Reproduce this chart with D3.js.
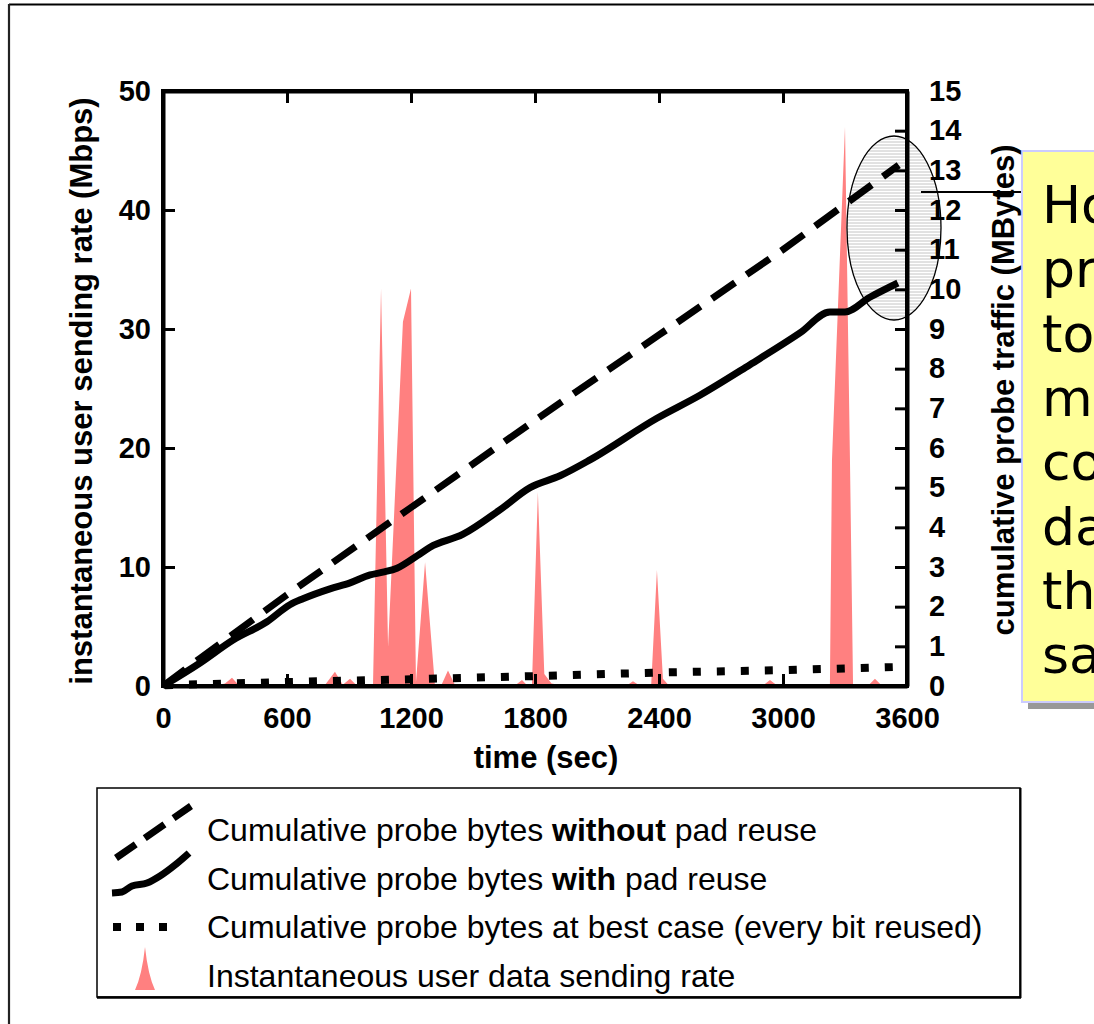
<!DOCTYPE html>
<html><head><meta charset="utf-8">
<script src="https://cdn.jsdelivr.net/npm/d3@7"></script>
<style>body{margin:0;background:#fff;overflow:hidden}svg{display:block}</style>
</head><body>
<svg id="c" width="1094" height="1024"></svg>
<script>
// ---------- data ----------
const xTicks = [0, 600, 1200, 1800, 2400, 3000, 3600];
const leftTicks = [0, 10, 20, 30, 40, 50];
const rightTicks = [0,1,2,3,4,5,6,7,8,9,10,11,12,13,14,15];

// instantaneous user sending rate (Mbps)
const rateTime = [0,60,150,250,300,334,370,500,650,780,832,870,905,940,1016,1055,1089,1161,1200,1224,1268,1316,1345,1379,1415,1700,1737,1765,1785,1814,1845,1880,1950,2240,2274,2310,2362,2390,2419,2450,2900,2937,2975,3227,3237,3300,3324,3339,3410,3445,3480,3580];
const rateMbps = [0,0.1,0,0,0.2,0.7,0,0,0.1,0,1.2,0.1,0.6,0,0,33.4,3.3,30.6,33.4,0.3,10.4,0,0,1.3,0,0,0.5,0,0,16.3,1.0,0.2,0,0,0.4,0,0,9.75,0.6,0,0,0.5,0,0,19,47,19,0,0,0.6,0,0];

// cumulative probe traffic (MBytes)
const noReuseTime = [0,180,600,1200,1800,2400,3000,3560];
const noReuseMB   = [0,0.7,2.3,4.5,6.7,8.85,11.0,13.13];
const reuseTime = [0,179,339,503,614,677,808,905,1002,1064,1132,1229,1292,1450,1630,1776,1921,2066,2390,2598,2840,3082,3227,3300,3420,3556];
const reuseMB   = [0,0.58,1.16,1.62,2.05,2.2,2.45,2.6,2.8,2.87,2.97,3.28,3.5,3.82,4.44,5.0,5.3,5.7,6.75,7.33,8.1,8.9,9.43,9.43,9.8,10.16];
const bestTime = [0,600,1200,1800,2400,3000,3560];
const bestMB   = [0.02,0.1,0.17,0.25,0.34,0.4,0.48];

const xTitle = "time (sec)";
const yLeftTitle = "instantaneous user sending rate (Mbps)";
const yRightTitle = "cumulative probe traffic (MBytes)";
const legendItems = [
  ["Cumulative probe bytes ", "without", " pad reuse"],
  ["Cumulative probe bytes ", "with", " pad reuse"],
  ["Cumulative probe bytes at best case (every bit reused)", "", ""],
  ["Instantaneous user data sending rate", "", ""]
];
const calloutLines = ["Ho","pro","tol","me","co","da","the","sa"];

// ---------- drawing ----------
const svg = d3.select("#c");
const F = "'Liberation Sans', Arial, sans-serif";
const pink = "#ff8080";

const x = d3.scaleLinear().domain([0, 3600]).range([163, 907]);
const yL = d3.scaleLinear().domain([0, 50]).range([686, 91]);
const yR = d3.scaleLinear().domain([0, 15]).range([686, 91]);

// slide frame
svg.append("line").attr("x1", 9).attr("y1", 4.5).attr("x2", 1094).attr("y2", 4.5).attr("stroke", "#000").attr("stroke-width", 2);
svg.append("line").attr("x1", 9).attr("y1", 4).attr("x2", 9).attr("y2", 1024).attr("stroke", "#222").attr("stroke-width", 2.2);

// hatch pattern
const defs = svg.append("defs");
const pat = defs.append("pattern").attr("id", "hatch").attr("patternUnits", "userSpaceOnUse").attr("width", 6).attr("height", 3);
pat.append("line").attr("x1", 0).attr("x2", 6).attr("y1", 1).attr("y2", 1).attr("stroke", "#c4c4c4").attr("stroke-width", 1);

// rate area
const pts = rateTime.map((t, i) => [t, rateMbps[i]]);
svg.append("path").datum(pts)
  .attr("d", d3.area().x(d => x(d[0])).y0(yL(0)).y1(d => yL(d[1])))
  .attr("fill", pink);

// ellipse fill (hatched)
svg.append("ellipse").attr("cx", 894).attr("cy", 228).attr("rx", 47).attr("ry", 92)
  .attr("fill", "url(#hatch)").attr("stroke", "none");

// cumulative lines
svg.append("path").datum(noReuseTime.map((t, i) => [t, noReuseMB[i]]))
  .attr("d", d3.line().x(d => x(d[0])).y(d => yR(d[1])))
  .attr("fill", "none").attr("stroke", "#000").attr("stroke-width", 7)
  .attr("stroke-dasharray", "28,14");
svg.append("path").datum(reuseTime.map((t, i) => [t, reuseMB[i]]))
  .attr("d", d3.line().x(d => x(d[0])).y(d => yR(d[1])).curve(d3.curveMonotoneX))
  .attr("fill", "none").attr("stroke", "#000").attr("stroke-width", 7)
  .attr("stroke-linejoin", "round");
svg.append("path").datum(bestTime.map((t, i) => [t, bestMB[i]]))
  .attr("d", d3.line().x(d => x(d[0])).y(d => yR(d[1])))
  .attr("fill", "none").attr("stroke", "#000").attr("stroke-width", 8)
  .attr("stroke-dasharray", "8,16").attr("stroke-dashoffset", -2);

// ellipse outline
svg.append("ellipse").attr("cx", 894).attr("cy", 228).attr("rx", 47).attr("ry", 92)
  .attr("fill", "none").attr("stroke", "#000").attr("stroke-width", 1.3);

// axes
function styleAxis(g) {
  g.select(".domain").attr("stroke-width", 4);
  g.selectAll(".tick line").attr("stroke-width", 3);
  g.selectAll("text").attr("font-family", F).attr("font-weight", "bold").attr("font-size", 29).attr("fill", "#000");
}
svg.append("g").attr("transform", "translate(163,0)")
  .call(d3.axisLeft(yL).tickValues(leftTicks).tickSizeInner(-12).tickSizeOuter(0).tickPadding(12))
  .call(styleAxis);
svg.append("g").attr("transform", "translate(907,0)")
  .call(d3.axisRight(yR).tickValues(rightTicks).tickSizeInner(-12).tickSizeOuter(0).tickPadding(22))
  .call(styleAxis);
svg.append("g").attr("transform", "translate(0,686)")
  .call(d3.axisBottom(x).tickValues(xTicks).tickFormat(d3.format("d")).tickSizeInner(-12).tickSizeOuter(0).tickPadding(21))
  .call(styleAxis);
svg.append("g").attr("transform", "translate(0,91)")
  .call(d3.axisTop(x).tickValues(xTicks).tickSizeInner(-12).tickSizeOuter(0).tickFormat(""))
  .call(styleAxis);
// close corners
svg.append("rect").attr("x", 163).attr("y", 91).attr("width", 744).attr("height", 595)
  .attr("fill", "none").attr("stroke", "#000").attr("stroke-width", 4);

// callout pointer
svg.append("line").attr("x1", 921).attr("x2", 1026).attr("y1", 192).attr("y2", 192).attr("stroke", "#000").attr("stroke-width", 2);

// callout box
svg.append("rect").attr("x", 1028).attr("y", 157).attr("width", 120).attr("height", 552).attr("fill", "#999");
svg.append("rect").attr("x", 1022).attr("y", 151).attr("width", 120).attr("height", 551)
  .attr("fill", "#ffff99").attr("stroke", "#ccccff").attr("stroke-width", 2);
svg.append("g").selectAll("text").data(calloutLines).join("text")
  .attr("x", 1042).attr("y", (d, i) => 223 + i * 64.3)
  .attr("font-family", "'DejaVu Sans', Verdana, sans-serif").attr("font-size", 52).attr("fill", "#000")
  .text(d => d);

// axis titles
svg.append("text").attr("x", 546).attr("y", 768).attr("text-anchor", "middle")
  .attr("font-family", F).attr("font-weight", "bold").attr("font-size", 31).text(xTitle);
svg.append("text").attr("transform", "translate(92,391) rotate(-90)").attr("text-anchor", "middle")
  .attr("font-family", F).attr("font-weight", "bold").attr("font-size", 31).text(yLeftTitle);
svg.append("text").attr("transform", "translate(1014,390) rotate(-90)").attr("text-anchor", "middle")
  .attr("font-family", F).attr("font-weight", "bold").attr("font-size", 31).text(yRightTitle);

// legend
svg.append("rect").attr("x", 97).attr("y", 788).attr("width", 923).attr("height", 209)
  .attr("fill", "#fff").attr("stroke", "#000").attr("stroke-width", 1.5);
svg.append("line").attr("x1", 97).attr("x2", 1021).attr("y1", 997.5).attr("y2", 997.5).attr("stroke", "#000").attr("stroke-width", 2.5);
svg.append("line").attr("x1", 1020.5).attr("x2", 1020.5).attr("y1", 788).attr("y2", 998).attr("stroke", "#000").attr("stroke-width", 2);

const lg = svg.append("g");
lg.selectAll("text").data(legendItems).join("text")
  .attr("x", 207).attr("y", (d, i) => 841 + i * 48.5)
  .attr("font-family", F).attr("font-size", 32).attr("fill", "#000")
  .each(function(d) {
    const t = d3.select(this);
    t.append("tspan").text(d[0]);
    if (d[1]) t.append("tspan").attr("font-weight", "bold").text(d[1]);
    if (d[2]) t.append("tspan").text(d[2]);
  });
// legend symbols
lg.append("line").attr("x1", 116).attr("y1", 858).attr("x2", 191).attr("y2", 806)
  .attr("stroke", "#000").attr("stroke-width", 7).attr("stroke-dasharray", "24,11");
lg.append("path").attr("d", d3.line().curve(d3.curveMonotoneX)([[112,893],[122,892],[132,886],[147,883],[160,876],[175,865],[189,853]]))
  .attr("fill", "none").attr("stroke", "#000").attr("stroke-width", 7);
lg.append("line").attr("x1", 113).attr("y1", 927).attr("x2", 176).attr("y2", 927)
  .attr("stroke", "#000").attr("stroke-width", 8).attr("stroke-dasharray", "8,15");
lg.append("path").attr("d", "M135,990 Q142,975 145,947 Q148,975 155,990 Z").attr("fill", pink);
</script>
</body></html>
